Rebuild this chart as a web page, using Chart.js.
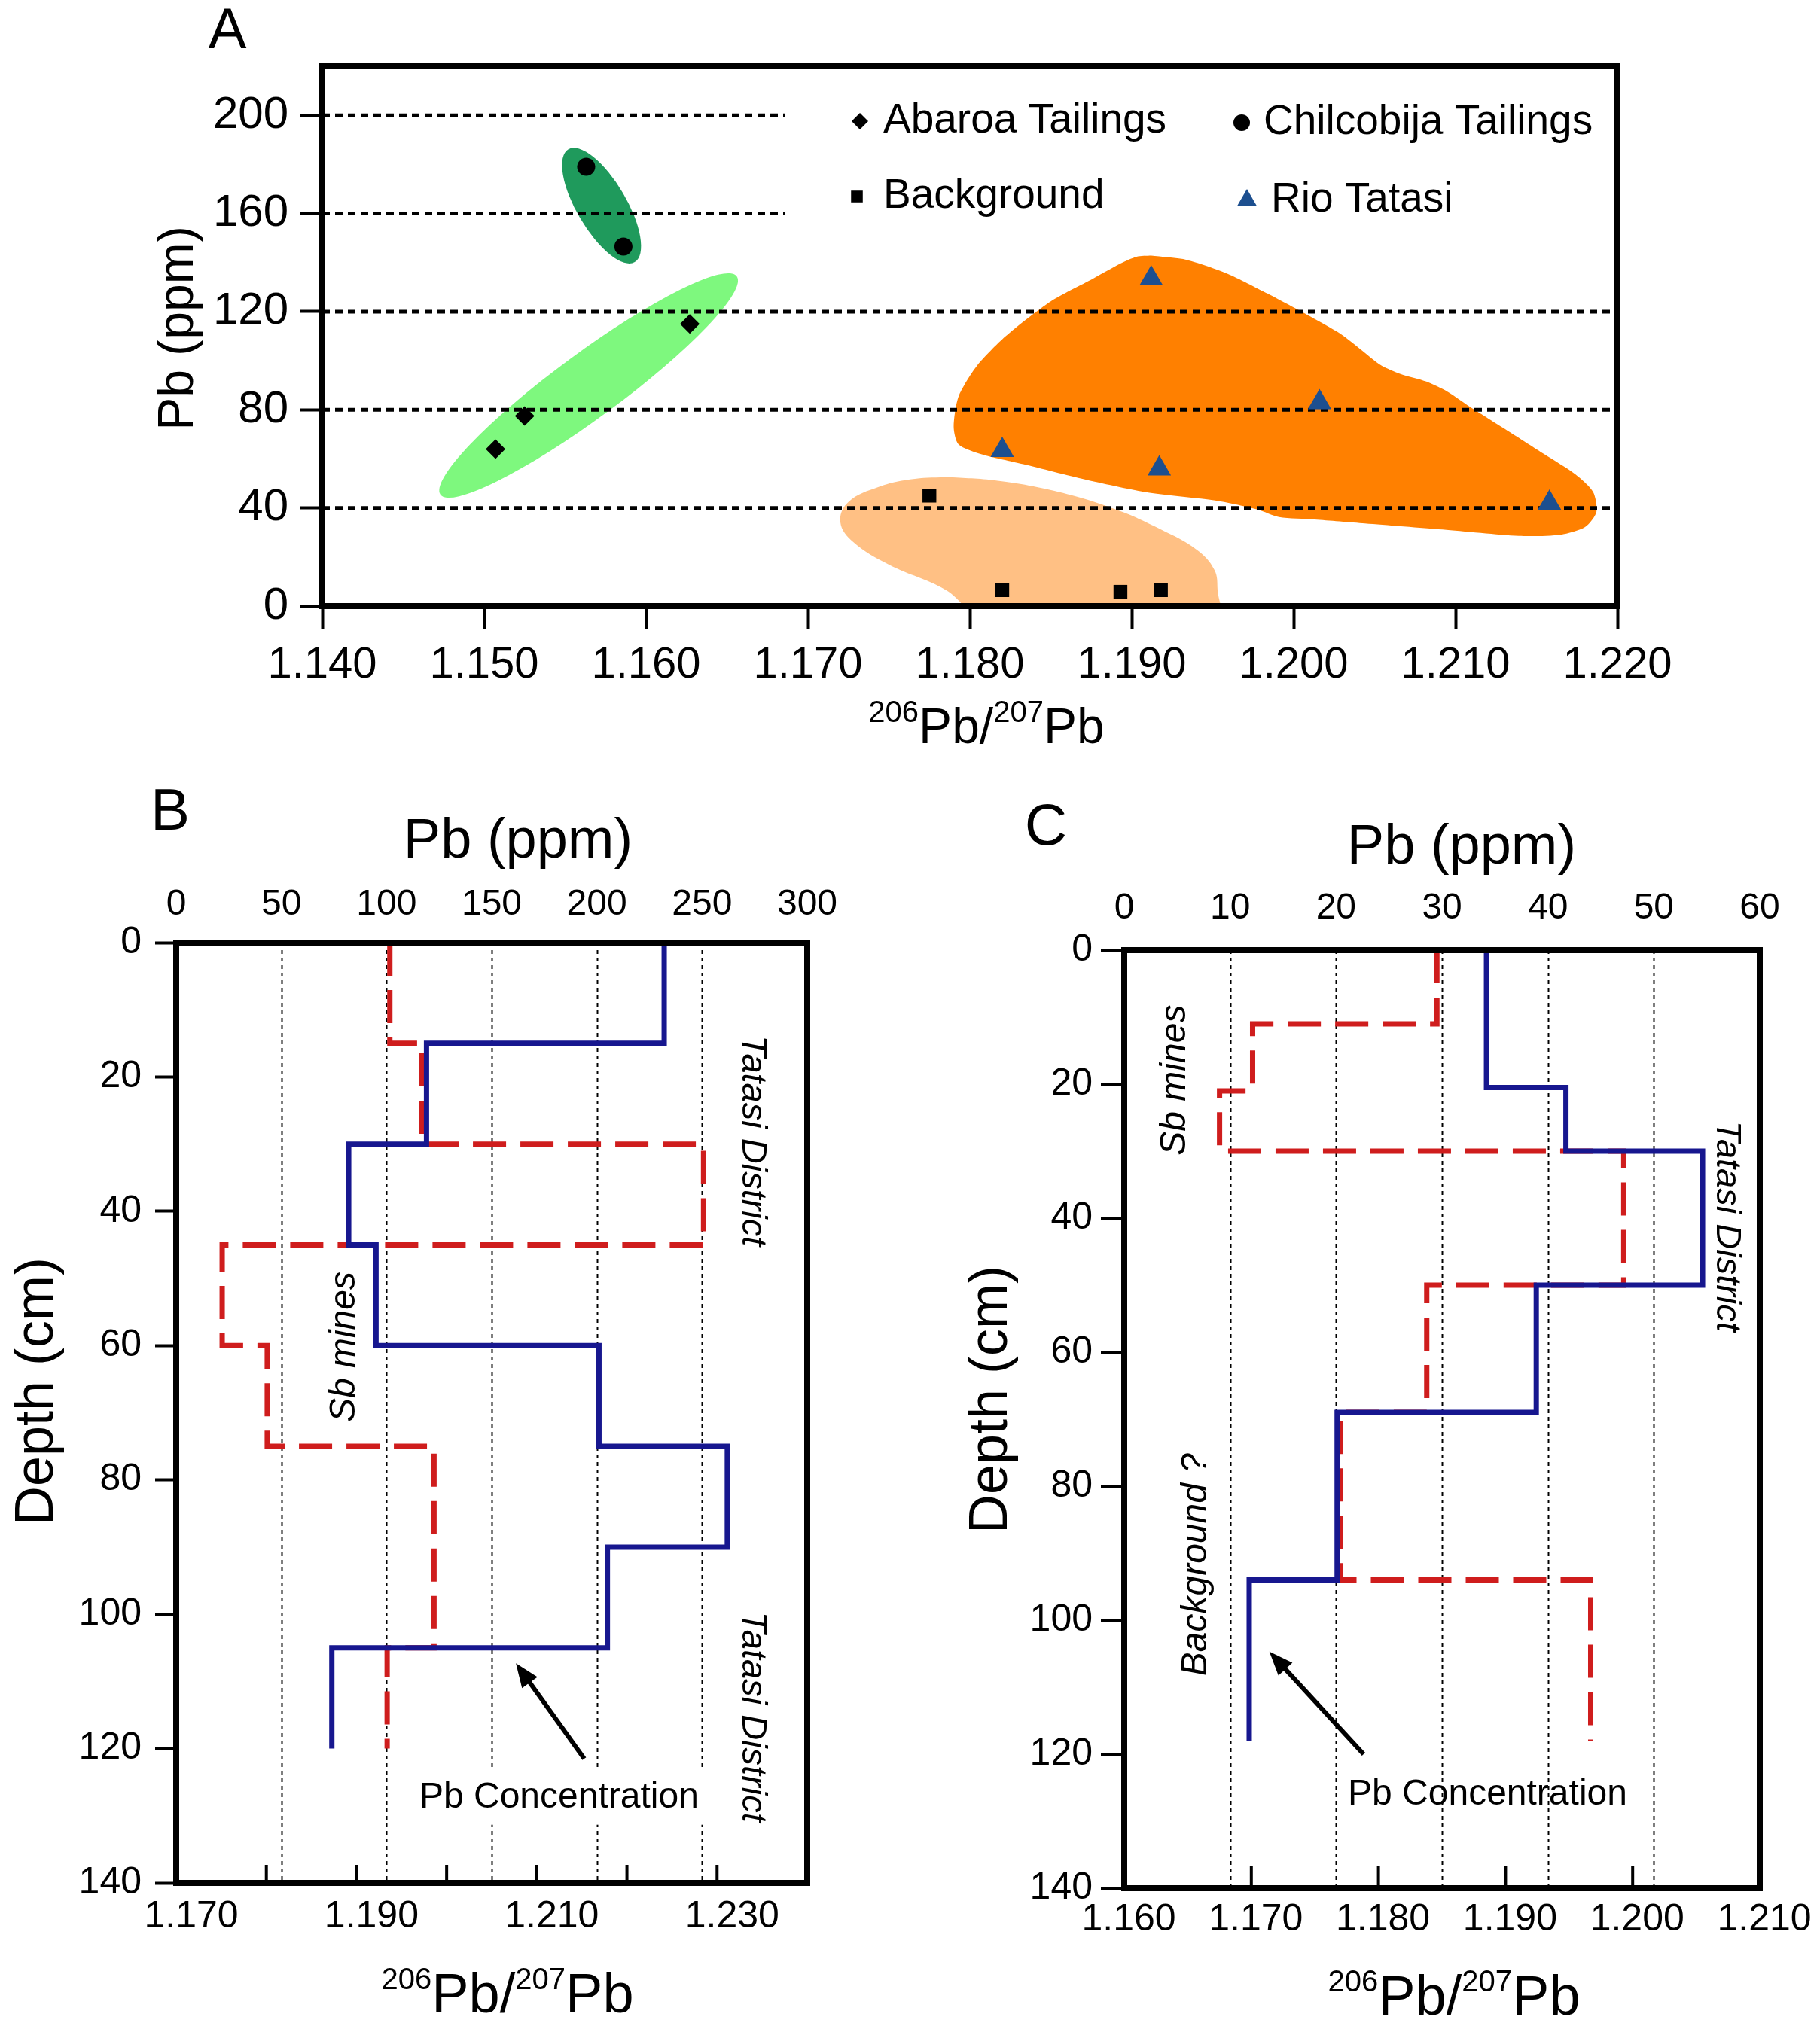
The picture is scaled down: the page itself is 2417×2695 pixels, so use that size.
<!DOCTYPE html>
<html>
<head>
<meta charset="utf-8">
<script src="https://cdn.jsdelivr.net/npm/chart.js@4.4.1/dist/chart.umd.min.js"></script>
<style>
  html, body { margin: 0; padding: 0; background: #fff; }
  body { width: 2417px; height: 2695px; position: relative; overflow: hidden; }
  canvas { position: absolute; }
  #chartA { left: 0; top: 0; }
  #chartB { left: 0; top: 1000px; }
  #chartC { left: 1200px; top: 1000px; }
</style>
</head>
<body>
<canvas id="chartA" width="2417" height="1010"></canvas>
<canvas id="chartB" width="1200" height="1695"></canvas>
<canvas id="chartC" width="1217" height="1695"></canvas>
<script>
const FONT = '"Liberation Sans", Arial, Helvetica, sans-serif';

// ── Panel A: Pb (ppm) vs 206Pb/207Pb ──
const ratioTicksA = [1.14, 1.15, 1.16, 1.17, 1.18, 1.19, 1.20, 1.21, 1.22];
const pbTicksA = [0, 40, 80, 120, 160, 200];

const abaroaRatio = [1.1507, 1.1525, 1.1627];
const abaroaPb = [64, 77.5, 115];
const chilcobijaRatio = [1.1563, 1.1586];
const chilcobijaPb = [179, 146.5];
const backgroundRatio = [1.1775, 1.1820, 1.1893, 1.1918];
const backgroundPb = [45, 6.5, 5.8, 6.5];
const tatasiRatio = [1.1912, 1.1820, 1.1917, 1.2016, 1.2158];
const tatasiPb = [133.5, 63.5, 56, 83, 42];

// dashed levels and where each one stops
const refLevels = [40, 80, 120, 160, 200];
const refEnds = [1.22, 1.22, 1.22, 1.1686, 1.1686];

// shaded fields (outline)
const tatasiFieldRatio = [1.1912, 1.1934, 1.1959, 1.1984, 1.2010, 1.2029, 1.2041, 1.2054, 1.2066, 1.2082,
  1.2095, 1.2111, 1.2133, 1.2155, 1.2174, 1.2185, 1.2187, 1.2180, 1.2165, 1.2139, 1.2092, 1.2044, 1.2013,
  1.1991, 1.1978, 1.1953, 1.1908, 1.1871, 1.1833, 1.1807, 1.1793, 1.1790, 1.1793, 1.1804, 1.1822, 1.1850,
  1.1876, 1.1893, 1.1903, 1.1912];
const tatasiFieldPb = [142.8, 141.1, 135.5, 127.3, 118.1, 110.9, 104.8, 98.1, 94.6, 91.5,
  87.4, 80.3, 71.1, 61.8, 53.7, 46.5, 38.3, 32.2, 29.1, 28.6, 31.2, 33.7, 35.3,
  36.3, 39.3, 42.9, 46.5, 51.6, 57.8, 61.9, 65.9, 73.1, 85.4, 97.6, 109.9, 124.2,
  133.4, 139.6, 142.4, 142.8];
const backgroundFieldRatio = [1.1785, 1.1817, 1.1855, 1.1890, 1.1918, 1.1940, 1.1951, 1.1953, 1.1953,
  1.1814, 1.1785, 1.1750, 1.1728, 1.1720, 1.1725, 1.1744, 1.1763, 1.1785];
const backgroundFieldPb = [52.6, 51.1, 46.5, 39.4, 31.2, 23.0, 14.8, 6.6, -8,
  -8, 6.6, 16.9, 26.1, 34.2, 42.4, 48.6, 51.6, 52.6];
// ellipses: ends of the long axis
const chilcobijaEllipseRatio = [1.1552, 1.1593];
const chilcobijaEllipsePb = [186.2, 140.2];
const abaroaEllipseRatio = [1.1473, 1.1656];
const abaroaEllipsePb = [45.4, 134.4];

// ── Panels B and C: depth profiles ──
const depthTicks = [0, 20, 40, 60, 80, 100, 120, 140];

const ppmTicksB = [0, 50, 100, 150, 200, 250, 300];
const ppmGridB = [50, 100, 150, 200, 250];
const ratioTicksB = [1.17, 1.18, 1.19, 1.20, 1.21, 1.22, 1.23, 1.24];
const ratioLabelsB = [1.17, 1.19, 1.21, 1.23];
const pbDepthB = [0, 15, 30, 45, 60, 75, 90, 105, 120];
const pbPpmB = [232, 119, 82, 95, 201, 262, 205, 74];
const ratioDepthB = [0, 15, 30, 45, 60, 75, 105, 120];
const ratioB = [1.1937, 1.1972, 1.2285, 1.1751, 1.1801, 1.1986, 1.1934];

const ppmTicksC = [0, 10, 20, 30, 40, 50, 60];
const ppmGridC = [10, 20, 30, 40, 50];
const ratioTicksC = [1.16, 1.17, 1.18, 1.19, 1.20, 1.21];
const pbDepthC = [0, 20.5, 30, 50, 69, 94, 118];
const pbPpmC = [34.2, 41.7, 54.6, 38.9, 20.1, 11.8];
const ratioDepthC = [0, 11, 21, 30, 50, 69, 94, 118];
const ratioC = [1.1846, 1.1701, 1.1675, 1.1993, 1.1838, 1.1770, 1.1967];

// Colores
const colors = {
  darkGreen: '#1f9a5c',
  lightGreen: '#7ef87e',
  orange: '#ff8000',
  peach: '#ffc084',
  triangle: '#1d4f8f',
  blue: '#17178f',
  red: '#cf1d1d',
};

Chart.defaults.font.family = FONT;
Chart.defaults.color = '#000';

const ptsOf = (xs, ys) => xs.map((x, i) => ({ x, y: ys[i] }));
const setTicks = arr => scale => { scale.ticks = arr.map(v => ({ value: v })); };

function stepProfile(bounds, values) {
  const pts = [];
  values.forEach((v, i) => { pts.push({ x: v, y: bounds[i] }, { x: v, y: bounds[i + 1] }); });
  return pts;
}

function text(ctx, str, x, y, size, opts = {}) {
  ctx.save();
  ctx.translate(x, y);
  if (opts.rot) ctx.rotate(opts.rot);
  ctx.font = `${opts.italic ? 'italic ' : ''}${size}px ${FONT}`;
  ctx.fillStyle = '#000';
  ctx.textAlign = opts.align || 'center';
  ctx.textBaseline = 'middle';
  if (opts.bg) {
    const w = ctx.measureText(str).width;
    ctx.fillStyle = '#fff';
    ctx.fillRect(-w / 2 - 10, -size * 0.75, w + 20, size * 1.5);
    ctx.fillStyle = '#000';
  }
  ctx.fillText(str, 0, 0);
  ctx.restore();
}

// ²⁰⁶Pb/²⁰⁷Pb with real superscripts
function isoTitle(ctx, cx, baseline, big, small) {
  const parts = [['206', small, true], ['Pb/', big, false], ['207', small, true], ['Pb', big, false]];
  let total = 0;
  parts.forEach(p => { ctx.font = `${p[1]}px ${FONT}`; p.push(ctx.measureText(p[0]).width); total += p[3]; });
  let x = cx - total / 2;
  ctx.save();
  ctx.fillStyle = '#000';
  ctx.textAlign = 'left';
  ctx.textBaseline = 'alphabetic';
  parts.forEach(p => {
    ctx.font = `${p[1]}px ${FONT}`;
    ctx.fillText(p[0], x, p[2] ? baseline - big * 0.42 : baseline);
    x += p[3];
  });
  ctx.restore();
}

function frame(chart, lw) {
  const { ctx, chartArea: a } = chart;
  ctx.save();
  ctx.strokeStyle = '#000';
  ctx.lineWidth = lw;
  ctx.lineJoin = 'miter';
  ctx.strokeRect(a.left, a.top, a.right - a.left, a.bottom - a.top);
  ctx.restore();
}

function arrow(ctx, x1, y1, x2, y2, lw, head) {
  const ang = Math.atan2(y2 - y1, x2 - x1);
  ctx.save();
  ctx.strokeStyle = '#000';
  ctx.fillStyle = '#000';
  ctx.lineWidth = lw;
  ctx.beginPath();
  ctx.moveTo(x1, y1);
  ctx.lineTo(x2 - Math.cos(ang) * head * 0.7, y2 - Math.sin(ang) * head * 0.7);
  ctx.stroke();
  ctx.beginPath();
  ctx.moveTo(x2, y2);
  ctx.lineTo(x2 - head * Math.cos(ang - 0.38), y2 - head * Math.sin(ang - 0.38));
  ctx.lineTo(x2 - head * Math.cos(ang + 0.38), y2 - head * Math.sin(ang + 0.38));
  ctx.closePath();
  ctx.fill();
  ctx.restore();
}

function marker(ctx, style, x, y, r, color) {
  ctx.save();
  ctx.fillStyle = color;
  ctx.beginPath();
  if (style === 'circle') ctx.arc(x, y, r, 0, Math.PI * 2);
  else if (style === 'rectRot') { ctx.moveTo(x - r, y); ctx.lineTo(x, y - r); ctx.lineTo(x + r, y); ctx.lineTo(x, y + r); ctx.closePath(); }
  else if (style === 'rect') { const s = r * Math.SQRT1_2; ctx.rect(x - s, y - s, 2 * s, 2 * s); }
  else if (style === 'triangle') { ctx.moveTo(x, y - r); ctx.lineTo(x + r * 0.866, y + r * 0.5); ctx.lineTo(x - r * 0.866, y + r * 0.5); ctx.closePath(); }
  ctx.fill();
  ctx.restore();
}

function ellipse(chart, ratios, pbs, halfWidth, color) {
  const { ctx, scales: { x, y }, chartArea: a } = chart;
  const x1 = x.getPixelForValue(ratios[0]), y1 = y.getPixelForValue(pbs[0]);
  const x2 = x.getPixelForValue(ratios[1]), y2 = y.getPixelForValue(pbs[1]);
  ctx.save();
  ctx.beginPath();
  ctx.rect(a.left, a.top, a.right - a.left, a.bottom - a.top);
  ctx.clip();
  ctx.beginPath();
  ctx.ellipse((x1 + x2) / 2, (y1 + y2) / 2, Math.hypot(x2 - x1, y2 - y1) / 2, halfWidth, Math.atan2(y2 - y1, x2 - x1), 0, Math.PI * 2);
  ctx.fillStyle = color;
  ctx.fill();
  ctx.restore();
}

function dottedGrid(chart, scaleId, values) {
  const { ctx, chartArea: a } = chart;
  const s = chart.scales[scaleId];
  ctx.save();
  ctx.strokeStyle = '#000';
  ctx.lineWidth = 2;
  ctx.setLineDash([5, 5]);
  values.forEach(v => {
    const px = Math.round(s.getPixelForValue(v)) + 0.5;
    ctx.beginPath();
    ctx.moveTo(px, a.top);
    ctx.lineTo(px, a.bottom);
    ctx.stroke();
  });
  ctx.restore();
}

function innerTicks(chart, scaleId, values, len) {
  const { ctx, chartArea: a } = chart;
  const s = chart.scales[scaleId];
  ctx.save();
  ctx.strokeStyle = '#000';
  ctx.lineWidth = 4;
  values.forEach(v => {
    const px = s.getPixelForValue(v);
    if (px <= a.left + 2 || px >= a.right - 2) return;
    ctx.beginPath();
    ctx.moveTo(px, a.bottom);
    ctx.lineTo(px, a.bottom - len);
    ctx.stroke();
  });
  ctx.restore();
}

const tickFont = size => ({ family: FONT, size });
const outerGrid = len => ({ display: true, drawOnChartArea: false, drawTicks: true, tickLength: len, tickWidth: 4, tickColor: '#000' });
const noGrid = { display: false, drawTicks: false };

// ── Gráfico A ──
const markerSets = [
  { label: 'Abaroa Tailings', xs: abaroaRatio, ys: abaroaPb, style: 'rectRot', r: 13, color: '#000' },
  { label: 'Chilcobija Tailings', xs: chilcobijaRatio, ys: chilcobijaPb, style: 'circle', r: 12, color: '#000' },
  { label: 'Background', xs: backgroundRatio, ys: backgroundPb, style: 'rect', r: 13, color: '#000' },
  { label: 'Rio Tatasi', xs: tatasiRatio, ys: tatasiPb, style: 'triangle', r: 18, color: colors.triangle },
];

const panelA = {
  id: 'panelA',
  beforeDatasetsDraw(chart) {
    ellipse(chart, chilcobijaEllipseRatio, chilcobijaEllipsePb, 33, colors.darkGreen);
    ellipse(chart, abaroaEllipseRatio, abaroaEllipsePb, 43, colors.lightGreen);
  },
  afterDraw(chart) {
    const { ctx } = chart;
    frame(chart, 8);
    // legend
    const legend = [
      { set: markerSets[0], mx: 1142, tx: 1173, y: 161 },
      { set: markerSets[1], mx: 1649, tx: 1678, y: 163 },
      { set: markerSets[2], mx: 1138, tx: 1173, y: 261 },
      { set: markerSets[3], mx: 1656, tx: 1688, y: 266 },
    ];
    legend.forEach(l => {
      marker(ctx, l.set.style, l.mx, l.y, l.set.style === 'triangle' ? 15 : 11, l.set.color);
      text(ctx, l.set.label, l.tx, l.y, 55, { align: 'left' });
    });
    text(ctx, 'A', 302, 43, 76);
    text(ctx, 'Pb (ppm)', 238, 436, 66, { rot: -Math.PI / 2 });
    isoTitle(ctx, 1310, 987, 66, 40);
  }
};

new Chart(document.getElementById('chartA'), {
  type: 'scatter',
  data: {
    datasets: [
      ...markerSets.map(m => ({
        label: m.label,
        data: ptsOf(m.xs, m.ys),
        pointStyle: m.style,
        pointRadius: m.r,
        backgroundColor: m.color,
        borderColor: m.color,
        borderWidth: 0,
        order: 0,
      })),
      ...refLevels.map((lv, i) => ({
        data: [{ x: ratioTicksA[0], y: lv }, { x: refEnds[i], y: lv }],
        showLine: true,
        borderColor: '#000',
        borderWidth: 5,
        borderDash: [10, 7],
        pointRadius: 0,
        order: 1,
      })),
      {
        data: ptsOf(tatasiFieldRatio, tatasiFieldPb),
        showLine: true, fill: 'shape', tension: 0.25,
        backgroundColor: colors.orange, borderColor: 'rgba(0,0,0,0)', borderWidth: 0, pointRadius: 0,
        order: 2,
      },
      {
        data: ptsOf(backgroundFieldRatio, backgroundFieldPb),
        showLine: true, fill: 'shape', tension: 0.4,
        backgroundColor: colors.peach, borderColor: 'rgba(0,0,0,0)', borderWidth: 0, pointRadius: 0,
        order: 2,
      },
    ]
  },
  options: {
    responsive: false,
    devicePixelRatio: 1,
    animation: false,
    layout: { padding: { top: 88, right: 269, left: 0, bottom: 0 } },
    plugins: { legend: { display: false }, tooltip: { enabled: false } },
    scales: {
      x: {
        type: 'linear', min: 1.14, max: 1.22,
        afterBuildTicks: setTicks(ratioTicksA),
        afterFit: s => { s.height = 205; },
        ticks: { callback: v => v.toFixed(3), font: tickFont(58), color: '#000', padding: 14, maxRotation: 0, autoSkip: false },
        grid: outerGrid(30),
        border: { display: false },
      },
      y: {
        type: 'linear', min: 0, max: 220,
        afterBuildTicks: setTicks(pbTicksA),
        afterFit: s => { s.width = 428; },
        ticks: { font: tickFont(60), color: '#000', padding: 15, autoSkip: false },
        grid: outerGrid(30),
        border: { display: false },
      }
    }
  },
  plugins: [panelA]
});

// ── Gráficos B y C ──
function profileChart(id, cfg) {
  const decor = {
    id: 'decor' + id,
    beforeDatasetsDraw(chart) {
      dottedGrid(chart, 'ppm', cfg.grid);
    },
    afterDraw(chart) {
      const { ctx, scales: { ppm, depth } } = chart;
      innerTicks(chart, 'ratio', cfg.ratioTicks, cfg.innerTick);
      frame(chart, 8);
      const px = v => ppm.getPixelForValue(v);
      const py = v => depth.getPixelForValue(v);
      text(ctx, cfg.letter, cfg.letterPos[0], cfg.letterPos[1], 78);
      text(ctx, 'Pb (ppm)', cfg.topTitle[0], cfg.topTitle[1], 74);
      text(ctx, 'Depth (cm)', cfg.leftTitle[0], cfg.leftTitle[1], 72, { rot: -Math.PI / 2 });
      isoTitle(ctx, cfg.bottomTitle[0], cfg.bottomTitle[1], 74, 40);
      cfg.notes.forEach(n => {
        text(ctx, n.text, px(n.ppm), py(n.depth), n.size, { rot: n.rot, italic: n.italic, bg: n.bg });
      });
      arrow(ctx, px(cfg.arrow[0]), py(cfg.arrow[1]), px(cfg.arrow[2]), py(cfg.arrow[3]), 6, 34);
    }
  };

  return new Chart(document.getElementById(id), {
    type: 'scatter',
    data: {
      datasets: [
        {
          label: 'Pb',
          data: stepProfile(cfg.pbDepth, cfg.pbPpm),
          xAxisID: 'ppm', yAxisID: 'depth',
          showLine: true, tension: 0, pointRadius: 0,
          borderColor: colors.blue, borderWidth: 7, borderJoinStyle: 'miter',
          order: 0,
        },
        {
          label: '206Pb/207Pb',
          data: stepProfile(cfg.ratioDepth, cfg.ratio),
          xAxisID: 'ratio', yAxisID: 'depth',
          showLine: true, tension: 0, pointRadius: 0,
          borderColor: colors.red, borderWidth: 7, borderDash: [44, 19],
          order: 1,
        },
      ]
    },
    options: {
      responsive: false,
      devicePixelRatio: 1,
      animation: false,
      layout: { padding: { top: 0, left: 0, right: cfg.rightPad, bottom: 0 } },
      plugins: { legend: { display: false }, tooltip: { enabled: false } },
      scales: {
        ppm: {
          axis: 'x', type: 'linear', position: 'top',
          min: cfg.ppmTicks[0], max: cfg.ppmTicks[cfg.ppmTicks.length - 1],
          afterBuildTicks: setTicks(cfg.ppmTicks),
          afterFit: s => { s.height = cfg.topH; },
          ticks: { font: tickFont(48), color: '#000', padding: cfg.topPad, maxRotation: 0, autoSkip: false },
          grid: noGrid,
          border: { display: false },
        },
        ratio: {
          axis: 'x', type: 'linear', position: 'bottom',
          min: cfg.ratioTicks[0], max: cfg.ratioTicks[cfg.ratioTicks.length - 1],
          afterBuildTicks: setTicks(cfg.ratioTicks),
          afterFit: s => { s.height = cfg.bottomH; },
          ticks: {
            callback: v => cfg.ratioLabels.some(l => Math.abs(l - v) < 1e-6) ? v.toFixed(3) : '',
            font: tickFont(50), color: '#000', padding: cfg.bottomPad, labelOffset: cfg.labelShift,
            maxRotation: 0, autoSkip: false,
          },
          grid: noGrid,
          border: { display: false },
        },
        depth: {
          axis: 'y', type: 'linear', position: 'left', reverse: true,
          min: 0, max: 140,
          afterBuildTicks: setTicks(depthTicks),
          afterFit: s => { s.width = cfg.leftW; },
          ticks: { font: tickFont(50), color: '#000', padding: cfg.leftPad, autoSkip: false },
          grid: outerGrid(cfg.depthTick),
          border: { display: false },
        }
      }
    },
    plugins: [decor]
  });
}

profileChart('chartB', {
  letter: 'B', letterPos: [226, 80],
  topTitle: [688, 119], leftTitle: [50, 848], bottomTitle: [674, 1673],
  pbDepth: pbDepthB, pbPpm: pbPpmB, ratioDepth: ratioDepthB, ratio: ratioB,
  ppmTicks: ppmTicksB, grid: ppmGridB, ratioTicks: ratioTicksB, ratioLabels: ratioLabelsB,
  topH: 252, bottomH: 194, leftW: 234, rightPad: 128,
  topPad: 21, bottomPad: 15, leftPad: 18, depthTick: 28, innerTick: 24, labelShift: 20,
  notes: [
    { text: 'Tatasi District', ppm: 274, depth: 29.5, size: 47, rot: Math.PI / 2, italic: true },
    { text: 'Tatasi District', ppm: 274, depth: 115.3, size: 47, rot: Math.PI / 2, italic: true },
    { text: 'Sb mines', ppm: 80, depth: 60.2, size: 48, rot: -Math.PI / 2, italic: true },
    { text: 'Pb Concentration', ppm: 182, depth: 127.3, size: 48, bg: true },
  ],
  arrow: [194, 121.5, 161.5, 107.3],
});

profileChart('chartC', {
  letter: 'C', letterPos: [189, 100],
  topTitle: [741, 127], leftTitle: [117, 859], bottomTitle: [731, 1676],
  pbDepth: pbDepthC, pbPpm: pbPpmC, ratioDepth: ratioDepthC, ratio: ratioC,
  ppmTicks: ppmTicksC, grid: ppmGridC, ratioTicks: ratioTicksC, ratioLabels: ratioTicksC,
  topH: 262, bottomH: 187, leftW: 293, rightPad: 80,
  topPad: 26, bottomPad: 12, leftPad: 11, depthTick: 31, innerTick: 29, labelShift: 6,
  notes: [
    { text: 'Sb mines', ppm: 4.8, depth: 19.4, size: 48, rot: -Math.PI / 2, italic: true },
    { text: 'Tatasi District', ppm: 56.9, depth: 41.2, size: 47, rot: Math.PI / 2, italic: true },
    { text: 'Background ?', ppm: 6.8, depth: 91.7, size: 48, rot: -Math.PI / 2, italic: true },
    { text: 'Pb Concentration', ppm: 34.3, depth: 126, size: 48 },
  ],
  arrow: [22.6, 120, 13.7, 104.7],
});
</script>
</body>
</html>
